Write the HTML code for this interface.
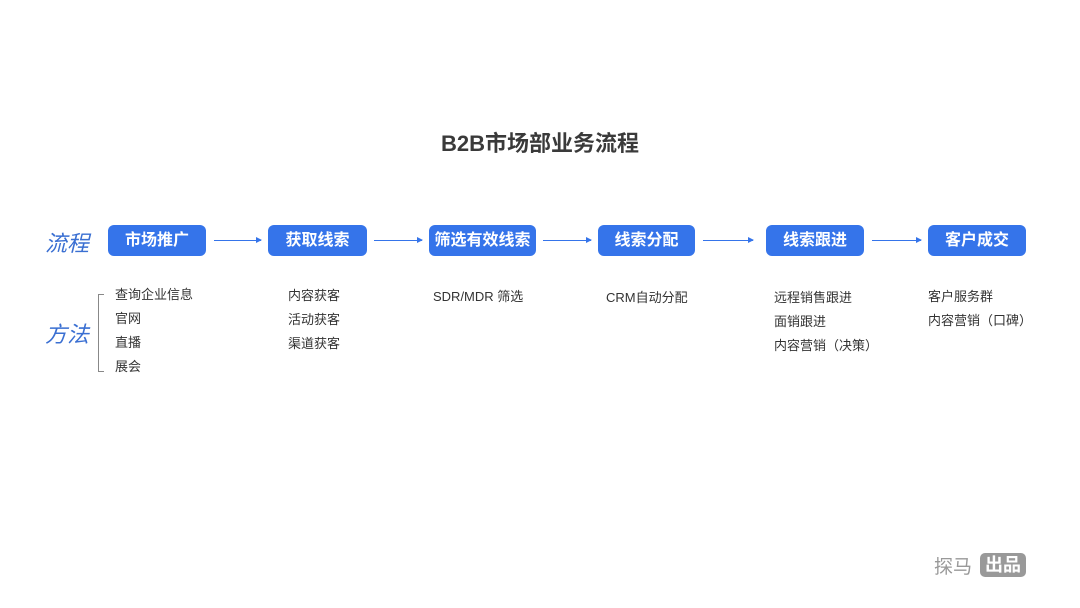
<!DOCTYPE html>
<html><head><meta charset="utf-8"><style>
body{margin:0;width:1080px;height:608px;background:#fff;position:relative;overflow:hidden;font-family:"Liberation Sans","Noto Sans CJK SC",sans-serif}
.a{position:absolute}
.t{left:0;width:1080px;top:126px;text-align:center;font-size:22px;color:#3a3a3a;font-weight:bold}
.b{position:absolute;top:225px;height:31px;background:#3574ea;color:#fff;border-radius:6px;font-size:16px;font-weight:bold;line-height:31px;text-align:center}
.ar{position:absolute;top:240px;height:1px;background:#3574ea}
.ar:after{content:"";position:absolute;right:-1px;top:-3px;border-left:6px solid #3574ea;border-top:3.5px solid transparent;border-bottom:3.5px solid transparent}
.lab{position:absolute;left:45px;font-size:22px;font-style:italic;color:#3a6fd2}
.m{position:absolute;font-size:13px;color:#333;line-height:24px}
</style></head><body>
<div class="a t">B2B市场部业务流程</div>
<div class="lab" style="top:226px">流程</div>
<div class="lab" style="top:317px">方法</div>
<div class="b" style="left:108px;width:98px">市场推广</div>
<div class="b" style="left:268px;width:99px">获取线索</div>
<div class="b" style="left:429px;width:107px">筛选有效线索</div>
<div class="b" style="left:598px;width:97px">线索分配</div>
<div class="b" style="left:766px;width:98px">线索跟进</div>
<div class="b" style="left:928px;width:98px">客户成交</div>
<div class="ar" style="left:214px;width:47px"></div>
<div class="ar" style="left:374px;width:48px"></div>
<div class="ar" style="left:543px;width:48px"></div>
<div class="ar" style="left:703px;width:50px"></div>
<div class="ar" style="left:872px;width:49px"></div>
<div class="a" style="left:98px;top:294px;width:5px;height:76px;border:1px solid #888;border-right:none"></div>
<div class="m" style="left:115px;top:283px">查询企业信息<br>官网<br>直播<br>展会</div>
<div class="m" style="left:288px;top:284px">内容获客<br>活动获客<br>渠道获客</div>
<div class="m" style="left:433px;top:285px">SDR/MDR 筛选</div>
<div class="m" style="left:606px;top:286px">CRM自动分配</div>
<div class="m" style="left:774px;top:286px">远程销售跟进<br>面销跟进<br>内容营销（决策）</div>
<div class="m" style="left:928px;top:285px">客户服务群<br>内容营销（口碑）</div>
<div class="a" style="left:934px;top:552px;font-size:19px;color:#999">探马</div>
<div class="a" style="left:980px;top:553px;width:46px;height:24px;background:#999;border-radius:5px;color:#fff;font-size:18px;font-weight:bold;line-height:24px;text-align:center">出品</div>
</body></html>
